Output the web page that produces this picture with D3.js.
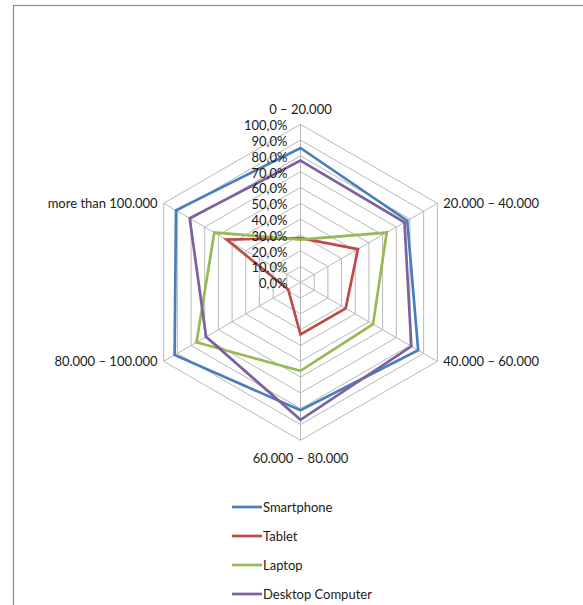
<!DOCTYPE html>
<html>
<head>
<meta charset="utf-8">
<script src="https://cdn.jsdelivr.net/npm/d3@7"></script>
<style>
  html, body { margin: 0; padding: 0; background: #fff; }
  svg { display: block; }
  text { font-family: Lato, "Open Sans", sans-serif; fill: #1a1a1a; }
</style>
</head>
<body>
<svg id="chart" width="583" height="605"></svg>
<script>
// Income bands (axes of the radar)
const categories = ["0 – 20.000", "20.000 – 40.000", "40.000 – 60.000",
                    "60.000 – 80.000", "80.000 – 100.000", "more than 100.000"];

// Share of respondents owning each device, per income band
const smartphone = [0.85, 0.78, 0.86, 0.81, 0.92, 0.91];
const tablet     = [0.28, 0.42, 0.33, 0.33, 0.09, 0.54];
const laptop     = [0.27, 0.63, 0.53, 0.56, 0.76, 0.63];
const desktop    = [0.77, 0.76, 0.81, 0.87, 0.69, 0.81];

const seriesNames  = ["Smartphone", "Tablet", "Laptop", "Desktop Computer"];
const seriesValues = [smartphone, tablet, laptop, desktop];
const seriesColors = ["#4a7ebb", "#be4b48", "#98b954", "#7d60a0"];

const tickValues = [0, 0.1, 0.2, 0.3, 0.4, 0.5, 0.6, 0.7, 0.8, 0.9, 1.0];

const FONT = 13;

const svg = d3.select("#chart");

// Chart area frame
svg.append("rect")
  .attr("x", 13.5).attr("y", 5.5)
  .attr("width", 620).attr("height", 700)
  .attr("fill", "none")
  .attr("stroke", "#8c8c8c")
  .attr("stroke-width", 1.2);

const cx = 300.5, cy = 282.3, R = 158;
const r = d3.scaleLinear().domain([0, 1]).range([0, R]);
const angle = d3.scalePoint().domain(d3.range(categories.length + 1))
  .range([0, 2 * Math.PI]);
const pt = (i, v) => {
  const a = angle(i % categories.length);
  return [cx + r(v) * Math.sin(a), cy - r(v) * Math.cos(a)];
};

const g = svg.append("g");

// Grid rings
tickValues.slice(1).forEach(t => {
  g.append("path")
    .attr("d", d3.line()(d3.range(categories.length + 1).map(i => pt(i, t))))
    .attr("fill", "none")
    .attr("stroke", "#b8b8b8")
    .attr("stroke-width", 1);
});

// Spokes
categories.forEach((c, i) => {
  const [x, y] = pt(i, 1);
  g.append("line")
    .attr("x1", cx).attr("y1", cy).attr("x2", x).attr("y2", y)
    .attr("stroke", "#b8b8b8").attr("stroke-width", 1);
});

// Series polygons
const radarLine = d3.line().curve(d3.curveLinearClosed);
seriesValues.forEach((vals, s) => {
  g.append("path")
    .attr("d", radarLine(vals.map((v, i) => pt(i, v))))
    .attr("fill", "none")
    .attr("stroke", seriesColors[s])
    .attr("stroke-width", 2.7)
    .attr("stroke-linejoin", "miter");
});

// Value axis labels along the top spoke
const fmt = v => (v * 100).toFixed(1).replace(".", ",") + "%";
tickValues.forEach(t => {
  g.append("text")
    .attr("x", cx - 13)
    .attr("y", cy - r(t))
    .attr("dy", "0.45em")
    .attr("text-anchor", "end")
    .attr("font-size", FONT)
    .text(fmt(t));
});

// Category labels
const labelPos = [
  { dx: 0,    dy: -15, anchor: "middle" },
  { dx: 6,    dy: 0,   anchor: "start" },
  { dx: 6,    dy: 0,   anchor: "start" },
  { dx: 0,    dy: 18,  anchor: "middle" },
  { dx: -6,   dy: 0,   anchor: "end" },
  { dx: -6,   dy: 0,   anchor: "end" }
];
categories.forEach((c, i) => {
  const [x, y] = pt(i, 1);
  g.append("text")
    .attr("x", x + labelPos[i].dx)
    .attr("y", y + labelPos[i].dy)
    .attr("dy", "0.35em")
    .attr("text-anchor", labelPos[i].anchor)
    .attr("font-size", FONT)
    .text(c);
});

// Legend
const legend = svg.append("g");
seriesNames.forEach((name, s) => {
  const y = 507 + s * 29;
  legend.append("line")
    .attr("x1", 232).attr("x2", 262).attr("y1", y).attr("y2", y)
    .attr("stroke", seriesColors[s]).attr("stroke-width", 2.7);
  legend.append("text")
    .attr("x", 263).attr("y", y).attr("dy", "0.35em")
    .attr("font-size", FONT)
    .text(name);
});
</script>
</body>
</html>
